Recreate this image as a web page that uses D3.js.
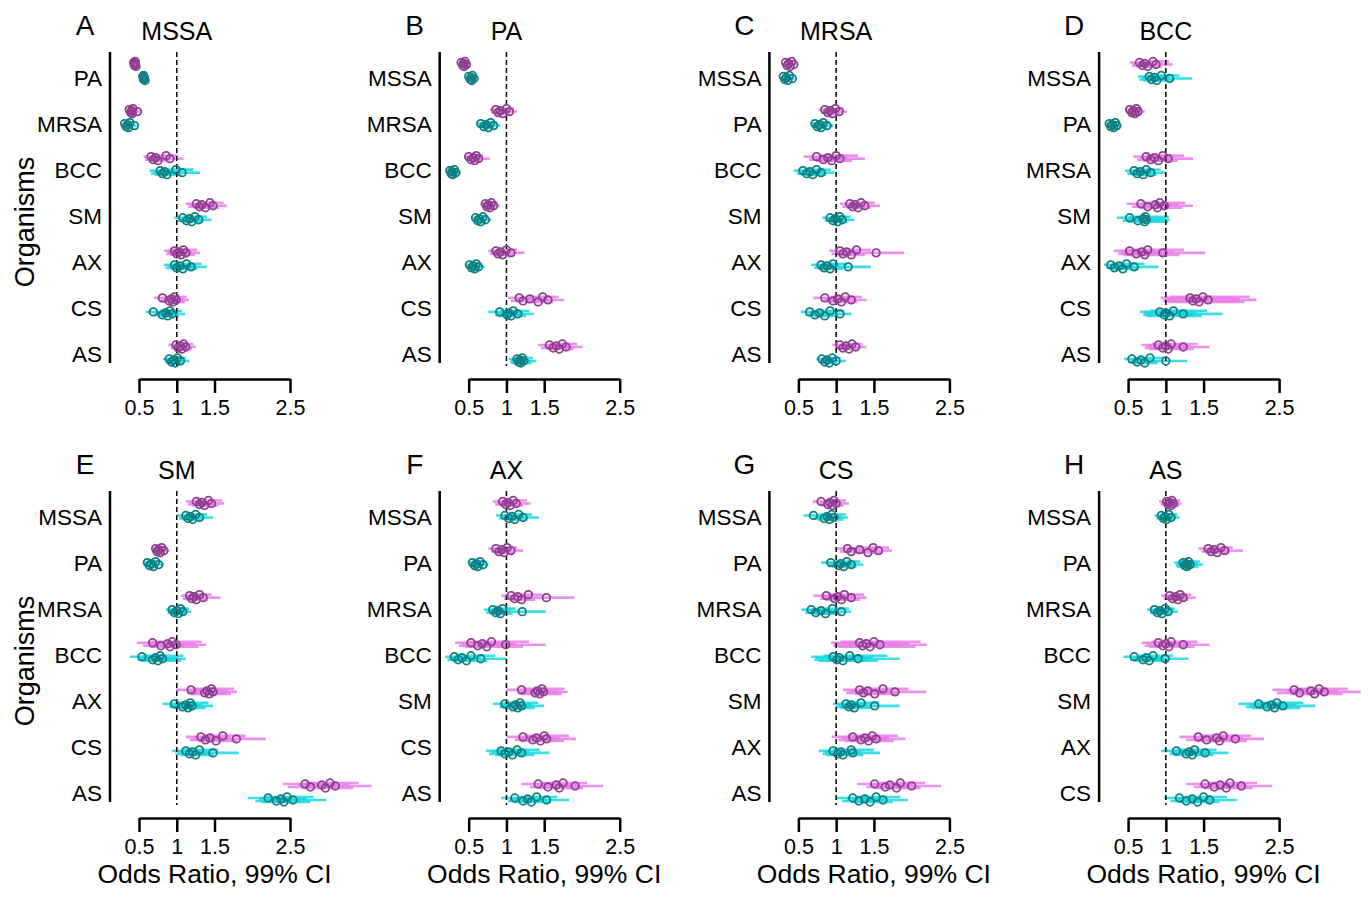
<!DOCTYPE html>
<html>
<head>
<meta charset="utf-8">
<script src="https://cdn.jsdelivr.net/npm/d3@7"></script>
<style>
body { margin: 0; background: #fff; }
text { font-family: "Liberation Sans", Arial, Helvetica, sans-serif; fill: #000; }
</style>
</head>
<body>
<div id="vis"></div>
<script>
// reference organisms, one panel each
const refs = ["MSSA", "PA", "MRSA", "BCC", "SM", "AX", "CS", "AS"];
const letters = ["A", "B", "C", "D", "E", "F", "G", "H"];
const xTicks = [0.5, 1, 1.5, 2.5];

// for every comparator (in refs order, reference left out):
// [magenta runs, teal runs], each run = [odds ratio, lower 99%, upper 99%]
const orMSSA = [
    [[[0.43,0.41,0.46],[0.44,0.42,0.47],[0.45,0.43,0.48],[0.46,0.43,0.49],[0.45,0.42,0.48],[0.44,0.41,0.47]],
     [[0.55,0.52,0.58],[0.56,0.53,0.59],[0.57,0.54,0.60],[0.58,0.55,0.61],[0.56,0.53,0.60],[0.57,0.54,0.61]]],
    [[[0.37,0.35,0.40],[0.39,0.36,0.42],[0.40,0.37,0.43],[0.41,0.38,0.44],[0.42,0.39,0.45],[0.48,0.44,0.52]],
     [[0.31,0.29,0.34],[0.33,0.31,0.36],[0.35,0.32,0.38],[0.36,0.33,0.39],[0.38,0.35,0.41],[0.44,0.40,0.47]]],
    [[[0.66,0.56,0.80],[0.69,0.58,0.83],[0.72,0.61,0.86],[0.75,0.63,0.90],[0.86,0.72,1.02],[0.91,0.76,1.09]],
     [[0.78,0.64,0.95],[0.81,0.66,0.99],[0.84,0.69,1.03],[0.87,0.71,1.07],[0.99,0.80,1.22],[1.07,0.86,1.31]]],
    [[[1.26,1.12,1.42],[1.30,1.15,1.46],[1.33,1.18,1.50],[1.38,1.22,1.56],[1.44,1.27,1.62],[1.48,1.31,1.66]],
     [[1.08,0.97,1.21],[1.13,1.01,1.26],[1.17,1.04,1.31],[1.20,1.07,1.35],[1.24,1.10,1.40],[1.29,1.15,1.46]]],
    [[[0.97,0.83,1.13],[1.00,0.86,1.16],[1.03,0.88,1.20],[1.06,0.91,1.24],[1.09,0.93,1.27],[1.12,0.96,1.31]],
     [[0.97,0.83,1.14],[1.00,0.85,1.18],[1.04,0.89,1.22],[1.08,0.92,1.27],[1.13,0.96,1.33],[1.19,1.01,1.40]]],
    [[[0.81,0.70,0.95],[0.90,0.77,1.05],[0.93,0.80,1.09],[0.95,0.82,1.11],[0.97,0.84,1.13],[0.99,0.85,1.16]],
     [[0.69,0.59,0.81],[0.81,0.69,0.95],[0.85,0.73,1.00],[0.88,0.75,1.03],[0.91,0.78,1.07],[0.94,0.80,1.11]]],
    [[[0.99,0.89,1.10],[1.02,0.92,1.14],[1.05,0.94,1.17],[1.07,0.96,1.20],[1.09,0.98,1.22],[1.12,1.00,1.25]],
     [[0.90,0.82,0.99],[0.93,0.85,1.03],[0.96,0.87,1.06],[0.98,0.89,1.09],[1.01,0.91,1.12],[1.05,0.95,1.17]]]
];

const orPA = [
    [[[0.40,0.38,0.43],[0.42,0.40,0.45],[0.43,0.41,0.46],[0.44,0.42,0.47],[0.45,0.42,0.48],[0.47,0.44,0.50]],
     [[0.50,0.47,0.54],[0.52,0.49,0.56],[0.53,0.50,0.57],[0.54,0.51,0.58],[0.55,0.52,0.59],[0.57,0.54,0.61]]],
    [[[0.86,0.78,0.95],[0.89,0.80,0.98],[0.92,0.83,1.02],[0.95,0.86,1.05],[1.00,0.90,1.10],[1.04,0.94,1.14]],
     [[0.66,0.60,0.73],[0.70,0.63,0.77],[0.73,0.66,0.81],[0.76,0.69,0.84],[0.79,0.72,0.88],[0.83,0.75,0.92]]],
    [[[0.50,0.44,0.57],[0.53,0.47,0.61],[0.56,0.49,0.64],[0.58,0.51,0.66],[0.60,0.53,0.69],[0.63,0.55,0.78]],
     [[0.25,0.22,0.29],[0.27,0.24,0.31],[0.28,0.25,0.32],[0.29,0.26,0.34],[0.31,0.27,0.36],[0.33,0.29,0.39]]],
    [[[0.72,0.66,0.79],[0.74,0.68,0.81],[0.76,0.70,0.83],[0.78,0.71,0.86],[0.80,0.73,0.88],[0.83,0.76,0.91]],
     [[0.59,0.54,0.65],[0.62,0.57,0.68],[0.64,0.59,0.70],[0.66,0.60,0.73],[0.69,0.63,0.76],[0.72,0.66,0.80]]],
    [[[0.86,0.76,0.98],[0.89,0.78,1.01],[0.92,0.81,1.05],[0.95,0.83,1.09],[1.00,0.88,1.14],[1.06,0.93,1.24]],
     [[0.51,0.46,0.57],[0.54,0.49,0.60],[0.56,0.51,0.62],[0.58,0.52,0.65],[0.60,0.54,0.67],[0.63,0.57,0.71]]],
    [[[1.17,1.02,1.34],[1.22,1.06,1.40],[1.31,1.14,1.50],[1.42,1.24,1.62],[1.48,1.29,1.69],[1.55,1.35,1.76]],
     [[0.91,0.76,1.08],[1.01,0.85,1.20],[1.03,0.87,1.22],[1.06,0.89,1.26],[1.09,0.92,1.30],[1.15,0.97,1.36]]],
    [[[1.57,1.42,1.74],[1.62,1.46,1.80],[1.66,1.50,1.84],[1.70,1.54,1.89],[1.74,1.57,1.94],[1.79,1.62,2.01]],
     [[1.14,1.03,1.27],[1.16,1.05,1.29],[1.18,1.06,1.31],[1.19,1.07,1.33],[1.21,1.09,1.35],[1.23,1.11,1.39]]]
];

const orMRSA = [
    [[[0.33,0.31,0.36],[0.35,0.33,0.38],[0.37,0.35,0.40],[0.39,0.36,0.42],[0.41,0.38,0.44],[0.44,0.41,0.47]],
     [[0.30,0.28,0.33],[0.32,0.30,0.35],[0.34,0.32,0.37],[0.36,0.33,0.39],[0.38,0.35,0.41],[0.42,0.39,0.45]]],
    [[[0.85,0.77,0.94],[0.89,0.80,0.98],[0.92,0.83,1.02],[0.95,0.86,1.05],[0.99,0.90,1.10],[1.04,0.94,1.14]],
     [[0.72,0.66,0.79],[0.75,0.68,0.82],[0.78,0.71,0.86],[0.80,0.73,0.88],[0.83,0.75,0.91],[0.88,0.80,0.96]]],
    [[[0.74,0.57,0.96],[0.83,0.64,1.07],[0.89,0.69,1.15],[0.94,0.73,1.21],[1.00,0.77,1.29],[1.05,0.81,1.38]],
     [[0.56,0.44,0.71],[0.61,0.48,0.77],[0.65,0.51,0.83],[0.69,0.54,0.87],[0.74,0.58,0.93],[0.80,0.63,0.98]]],
    [[[1.18,1.05,1.33],[1.22,1.08,1.38],[1.25,1.11,1.42],[1.29,1.14,1.46],[1.33,1.18,1.51],[1.38,1.22,1.58]],
     [[0.92,0.82,1.03],[0.96,0.85,1.08],[0.99,0.88,1.12],[1.02,0.91,1.15],[1.05,0.93,1.19],[1.08,0.96,1.24]]],
    [[[1.05,0.91,1.21],[1.09,0.94,1.26],[1.14,0.99,1.31],[1.20,1.04,1.38],[1.27,1.10,1.46],[1.53,1.25,1.90]],
     [[0.80,0.67,0.95],[0.84,0.71,1.00],[0.88,0.74,1.04],[0.92,0.77,1.09],[0.96,0.81,1.14],[1.16,0.95,1.46]]],
    [[[0.85,0.70,1.02],[0.96,0.80,1.15],[1.02,0.85,1.22],[1.07,0.89,1.28],[1.12,0.93,1.34],[1.20,1.00,1.40]],
     [[0.65,0.53,0.79],[0.72,0.59,0.87],[0.78,0.64,0.94],[0.85,0.70,1.03],[0.92,0.76,1.11],[1.05,0.87,1.20]]],
    [[[1.05,0.95,1.17],[1.09,0.98,1.21],[1.13,1.02,1.26],[1.17,1.05,1.30],[1.21,1.09,1.35],[1.26,1.13,1.40]],
     [[0.81,0.74,0.90],[0.85,0.77,0.94],[0.88,0.80,0.98],[0.91,0.82,1.01],[0.95,0.86,1.06],[1.00,0.90,1.13]]]
];

const orBCC = [
    [[[0.65,0.52,0.81],[0.69,0.55,0.86],[0.72,0.58,0.90],[0.76,0.61,0.95],[0.83,0.66,1.04],[0.87,0.70,1.09]],
     [[0.78,0.63,0.97],[0.81,0.65,1.01],[0.85,0.68,1.06],[0.88,0.70,1.10],[0.94,0.75,1.18],[1.05,0.84,1.35]]],
    [[[0.52,0.46,0.59],[0.55,0.49,0.62],[0.57,0.51,0.65],[0.59,0.52,0.67],[0.61,0.54,0.69],[0.63,0.56,0.72]],
     [[0.25,0.22,0.29],[0.27,0.24,0.31],[0.29,0.26,0.33],[0.31,0.27,0.35],[0.33,0.29,0.37],[0.35,0.31,0.40]]],
    [[[0.74,0.57,0.96],[0.80,0.62,1.04],[0.85,0.66,1.10],[0.90,0.70,1.16],[0.96,0.74,1.24],[1.03,0.80,1.36]],
     [[0.58,0.46,0.73],[0.62,0.49,0.78],[0.66,0.52,0.83],[0.70,0.55,0.88],[0.74,0.59,0.93],[0.80,0.64,0.99]]],
    [[[0.67,0.48,0.92],[0.76,0.55,1.04],[0.86,0.62,1.17],[0.89,0.65,1.22],[0.92,0.67,1.26],[0.98,0.71,1.36]],
     [[0.52,0.35,0.76],[0.63,0.43,0.91],[0.70,0.48,1.00],[0.72,0.50,1.03],[0.73,0.51,1.04],[0.74,0.52,1.05]]],
    [[[0.52,0.31,0.86],[0.61,0.37,1.00],[0.68,0.41,1.10],[0.72,0.44,1.18],[0.76,0.46,1.24],[0.96,0.58,1.52]],
     [[0.27,0.18,0.41],[0.32,0.21,0.48],[0.38,0.25,0.57],[0.43,0.28,0.64],[0.48,0.32,0.72],[0.58,0.38,0.90]]],
    [[[1.32,0.93,1.87],[1.36,0.96,1.93],[1.40,0.99,1.98],[1.44,1.02,2.04],[1.49,1.05,2.11],[1.56,1.10,2.20]],
     [[0.92,0.66,1.29],[0.98,0.70,1.38],[1.00,0.72,1.41],[1.05,0.75,1.48],[1.10,0.79,1.55],[1.23,0.88,1.75]]],
    [[[0.90,0.68,1.19],[0.96,0.72,1.27],[1.00,0.75,1.33],[1.03,0.78,1.37],[1.07,0.81,1.42],[1.23,0.93,1.58]],
     [[0.55,0.45,0.68],[0.62,0.50,0.77],[0.67,0.54,0.83],[0.72,0.58,0.89],[0.79,0.64,0.98],[1.00,0.81,1.28]]]
];

const orSM = [
    [[[1.26,1.12,1.42],[1.30,1.15,1.47],[1.33,1.18,1.50],[1.37,1.21,1.55],[1.42,1.25,1.60],[1.46,1.29,1.63]],
     [[1.12,1.01,1.25],[1.15,1.03,1.28],[1.18,1.06,1.32],[1.21,1.08,1.35],[1.25,1.12,1.40],[1.30,1.16,1.48]]],
    [[[0.72,0.67,0.78],[0.74,0.69,0.80],[0.76,0.70,0.82],[0.78,0.72,0.84],[0.80,0.74,0.87],[0.83,0.77,0.90]],
     [[0.61,0.56,0.66],[0.64,0.59,0.69],[0.66,0.61,0.72],[0.69,0.63,0.75],[0.72,0.66,0.78],[0.76,0.70,0.83]]],
    [[[1.17,1.06,1.30],[1.20,1.08,1.34],[1.23,1.11,1.37],[1.26,1.13,1.41],[1.30,1.17,1.46],[1.35,1.21,1.58]],
     [[0.94,0.86,1.04],[0.97,0.88,1.07],[1.00,0.91,1.10],[1.02,0.93,1.12],[1.05,0.95,1.16],[1.08,0.98,1.19]]],
    [[[0.68,0.47,0.97],[0.79,0.55,1.12],[0.88,0.62,1.25],[0.91,0.64,1.29],[0.94,0.66,1.33],[0.99,0.70,1.39]],
     [[0.54,0.38,0.76],[0.68,0.48,0.96],[0.72,0.51,1.02],[0.75,0.53,1.06],[0.78,0.55,1.09],[0.81,0.57,1.12]]],
    [[[1.19,0.99,1.43],[1.37,1.14,1.64],[1.40,1.17,1.68],[1.43,1.19,1.72],[1.46,1.21,1.76],[1.48,1.23,1.80]],
     [[0.97,0.81,1.16],[1.08,0.90,1.29],[1.12,0.93,1.34],[1.15,0.96,1.38],[1.18,0.98,1.42],[1.20,1.00,1.48]]],
    [[[1.32,1.12,1.56],[1.38,1.17,1.63],[1.44,1.22,1.70],[1.52,1.29,1.80],[1.61,1.36,1.91],[1.79,1.51,2.18]],
     [[1.12,0.94,1.33],[1.17,0.98,1.39],[1.21,1.02,1.44],[1.25,1.05,1.49],[1.30,1.09,1.55],[1.48,1.24,1.82]]],
    [[[2.70,2.41,3.03],[2.77,2.47,3.11],[2.92,2.60,3.28],[2.97,2.65,3.34],[3.03,2.70,3.41],[3.10,2.76,3.58]],
     [[2.21,1.94,2.52],[2.32,2.04,2.65],[2.38,2.09,2.72],[2.42,2.12,2.77],[2.46,2.16,2.81],[2.54,2.23,2.98]]]
];

const orAX = [
    [[[0.95,0.82,1.10],[0.99,0.85,1.15],[1.02,0.88,1.18],[1.05,0.91,1.22],[1.09,0.94,1.27],[1.13,0.98,1.32]],
     [[0.98,0.86,1.12],[1.03,0.90,1.18],[1.07,0.93,1.23],[1.11,0.97,1.28],[1.16,1.01,1.34],[1.22,1.06,1.43]]],
    [[[0.86,0.76,0.97],[0.90,0.80,1.02],[0.94,0.83,1.06],[0.97,0.86,1.10],[1.01,0.89,1.14],[1.06,0.94,1.22]],
     [[0.55,0.50,0.61],[0.58,0.52,0.64],[0.60,0.54,0.66],[0.62,0.56,0.69],[0.65,0.58,0.72],[0.69,0.62,0.76]]],
    [[[1.06,0.93,1.22],[1.11,0.97,1.28],[1.15,1.00,1.32],[1.20,1.04,1.38],[1.29,1.12,1.48],[1.53,1.24,1.90]],
     [[0.82,0.70,0.96],[0.86,0.73,1.01],[0.89,0.76,1.05],[0.92,0.78,1.08],[0.95,0.81,1.12],[1.21,0.97,1.52]]],
    [[[0.53,0.32,0.88],[0.62,0.37,1.02],[0.68,0.41,1.12],[0.74,0.45,1.22],[0.80,0.48,1.30],[0.99,0.60,1.52]],
     [[0.31,0.19,0.50],[0.36,0.22,0.58],[0.41,0.25,0.66],[0.47,0.29,0.75],[0.53,0.33,0.85],[0.66,0.41,1.00]]],
    [[[1.20,1.00,1.44],[1.38,1.15,1.65],[1.41,1.18,1.69],[1.44,1.20,1.73],[1.47,1.22,1.77],[1.49,1.24,1.81]],
     [[0.98,0.82,1.17],[1.09,0.91,1.30],[1.12,0.94,1.34],[1.15,0.96,1.38],[1.18,0.98,1.42],[1.20,1.00,1.50]]],
    [[[1.22,1.00,1.48],[1.35,1.11,1.64],[1.40,1.15,1.70],[1.45,1.19,1.76],[1.50,1.23,1.83],[1.53,1.26,1.92]],
     [[0.93,0.73,1.17],[0.98,0.77,1.24],[1.03,0.81,1.30],[1.08,0.85,1.37],[1.14,0.90,1.44],[1.20,0.95,1.57]]],
    [[[1.42,1.20,1.68],[1.55,1.31,1.83],[1.66,1.40,1.96],[1.70,1.44,2.01],[1.75,1.48,2.07],[1.91,1.61,2.28]],
     [[1.11,0.93,1.33],[1.22,1.02,1.46],[1.28,1.07,1.53],[1.33,1.11,1.59],[1.40,1.17,1.67],[1.53,1.28,1.83]]]
];

const orCS = [
    [[[0.80,0.69,0.93],[0.89,0.77,1.03],[0.92,0.79,1.07],[0.95,0.82,1.10],[0.97,0.84,1.13],[1.00,0.86,1.17]],
     [[0.70,0.57,0.86],[0.84,0.69,1.02],[0.88,0.72,1.07],[0.91,0.75,1.10],[0.94,0.77,1.13],[0.97,0.80,1.16]]],
    [[[1.15,1.00,1.32],[1.20,1.05,1.38],[1.31,1.14,1.50],[1.42,1.24,1.62],[1.49,1.30,1.70],[1.56,1.36,1.74]],
     [[0.93,0.80,1.08],[1.03,0.89,1.19],[1.06,0.91,1.23],[1.10,0.95,1.27],[1.14,0.98,1.32],[1.20,1.03,1.36]]],
    [[[0.87,0.70,1.08],[0.98,0.79,1.21],[1.02,0.82,1.26],[1.07,0.86,1.32],[1.11,0.89,1.37],[1.20,0.97,1.40]],
     [[0.67,0.54,0.83],[0.73,0.59,0.90],[0.80,0.65,0.99],[0.86,0.70,1.06],[0.95,0.77,1.17],[1.07,0.87,1.20]]],
    [[[1.31,0.93,1.85],[1.35,0.96,1.91],[1.40,0.99,1.97],[1.45,1.03,2.05],[1.50,1.06,2.12],[1.58,1.12,2.20]],
     [[0.96,0.67,1.37],[1.01,0.71,1.44],[1.04,0.73,1.49],[1.09,0.77,1.55],[1.18,0.83,1.68],[1.29,0.91,1.84]]],
    [[[1.31,1.09,1.58],[1.36,1.13,1.64],[1.42,1.18,1.71],[1.51,1.25,1.82],[1.62,1.34,1.96],[1.78,1.47,2.19]],
     [[1.13,0.96,1.33],[1.17,0.99,1.38],[1.20,1.02,1.42],[1.24,1.05,1.46],[1.33,1.13,1.57],[1.51,1.28,1.84]]],
    [[[1.22,0.94,1.50],[1.33,1.03,1.64],[1.38,1.07,1.70],[1.43,1.11,1.76],[1.48,1.15,1.82],[1.53,1.19,1.92]],
     [[0.96,0.77,1.20],[1.02,0.82,1.28],[1.06,0.85,1.33],[1.09,0.87,1.36],[1.20,0.96,1.50],[1.22,0.98,1.58]]],
    [[[1.51,1.28,1.78],[1.65,1.40,1.95],[1.71,1.45,2.02],[1.80,1.53,2.12],[1.85,1.57,2.18],[2.00,1.70,2.39]],
     [[1.22,1.01,1.47],[1.30,1.08,1.57],[1.38,1.14,1.66],[1.45,1.20,1.75],[1.53,1.27,1.85],[1.62,1.34,1.95]]]
];

const orAS = [
    [[[1.01,0.91,1.12],[1.03,0.93,1.14],[1.05,0.95,1.16],[1.07,0.97,1.18],[1.08,0.98,1.19],[1.10,1.00,1.21]],
     [[0.94,0.85,1.04],[0.97,0.88,1.07],[0.99,0.90,1.10],[1.01,0.91,1.12],[1.04,0.94,1.15],[1.07,0.97,1.18]]],
    [[[1.56,1.43,1.70],[1.60,1.47,1.75],[1.64,1.50,1.79],[1.68,1.54,1.84],[1.73,1.58,1.89],[1.78,1.63,2.02]],
     [[1.23,1.11,1.37],[1.25,1.13,1.39],[1.27,1.14,1.42],[1.28,1.15,1.43],[1.30,1.17,1.45],[1.32,1.19,1.49]]],
    [[[1.05,0.94,1.18],[1.09,0.97,1.22],[1.13,1.01,1.27],[1.16,1.03,1.30],[1.19,1.06,1.34],[1.23,1.10,1.40]],
     [[0.85,0.75,0.96],[0.89,0.79,1.01],[0.92,0.81,1.04],[0.95,0.84,1.08],[0.99,0.88,1.12],[1.03,0.91,1.16]]],
    [[[0.90,0.68,1.19],[0.96,0.72,1.27],[1.00,0.75,1.33],[1.04,0.78,1.38],[1.07,0.81,1.42],[1.23,0.93,1.58]],
     [[0.58,0.44,0.76],[0.70,0.53,0.92],[0.74,0.56,0.97],[0.78,0.59,1.03],[0.83,0.63,1.09],[0.99,0.75,1.30]]],
    [[[2.70,2.41,3.03],[2.77,2.47,3.11],[2.92,2.60,3.28],[2.97,2.65,3.34],[3.03,2.70,3.41],[3.10,2.76,3.58]],
     [[2.23,1.96,2.54],[2.34,2.06,2.66],[2.40,2.11,2.73],[2.44,2.14,2.78],[2.47,2.17,2.82],[2.55,2.24,2.98]]],
    [[[1.43,1.18,1.73],[1.54,1.27,1.86],[1.67,1.38,2.02],[1.71,1.41,2.07],[1.76,1.45,2.13],[1.92,1.59,2.30]],
     [[1.14,0.94,1.38],[1.27,1.05,1.54],[1.31,1.08,1.59],[1.35,1.11,1.63],[1.38,1.14,1.67],[1.52,1.25,1.83]]],
    [[[1.52,1.27,1.82],[1.64,1.37,1.96],[1.72,1.44,2.06],[1.80,1.51,2.15],[1.85,1.55,2.21],[2.00,1.67,2.41]],
     [[1.18,0.98,1.42],[1.27,1.06,1.53],[1.35,1.12,1.62],[1.42,1.18,1.71],[1.50,1.25,1.81],[1.58,1.31,1.94]]]
];

const panelData = [orMSSA, orPA, orMRSA, orBCC, orSM, orAX, orCS, orAS];

// vertical spread of the runs inside one group (px)
const jitter = [-1.5, 1.5, -0.5, 2.5, -2.5, 0.5];
const seriesStyle = [
    {line: "#e97ee8", point: "#8f3f8f", dy: -7},
    {line: "#16d9df", point: "#107f82", dy: 7}
];

const svg = d3.select("#vis")
    .append("svg")
    .attr("width", 1370)
    .attr("height", 899);

const x = d3.scaleLinear()
    .domain([0.5, 2.5])
    .range([139, 290]);

refs.forEach(function (ref, i) {
    const col = i % 4;
    const row = Math.floor(i / 4);
    const orgs = refs.filter(r => r !== ref);
    const data = panelData[i];

    const yData = d3.scalePoint().domain(orgs).range([71, 353.5]);
    const yLabel = d3.scalePoint().domain(orgs).range([78, 354]);

    const g = svg.append("g")
        .attr("transform", "translate(" + (col * 329.7) + "," + (row * 439) + ")");

    // panel letter and title
    g.append("text")
        .attr("x", 85)
        .attr("y", 35)
        .attr("text-anchor", "middle")
        .style("font-size", "28px")
        .text(letters[i]);

    g.append("text")
        .attr("x", x(1))
        .attr("y", 40)
        .attr("text-anchor", "middle")
        .style("font-size", "25px")
        .text(ref);

    // y axis line and labels
    g.append("line")
        .attr("x1", 110).attr("x2", 110)
        .attr("y1", 52).attr("y2", 363)
        .attr("stroke", "#000")
        .attr("stroke-width", 2.5);

    g.selectAll(".org")
        .data(orgs)
        .enter()
        .append("text")
        .attr("class", "org")
        .attr("x", 102)
        .attr("y", d => yLabel(d))
        .attr("dy", "0.35em")
        .attr("text-anchor", "end")
        .style("font-size", "22.5px")
        .text(d => d);

    if (col === 0) {
        g.append("text")
            .attr("transform", "translate(25,222) rotate(-90)")
            .attr("dy", "0.35em")
            .attr("text-anchor", "middle")
            .style("font-size", "27px")
            .text("Organisms");
    }

    // CI lines
    const runs = [];
    data.forEach(function (pair, j) {
        pair.forEach(function (list, s) {
            list.forEach(function (r, k) {
                runs.push({org: orgs[j], s: s, k: k, est: r[0], lo: r[1], hi: r[2]});
            });
        });
    });

    g.append("g")
        .selectAll("line")
        .data(runs)
        .enter()
        .append("line")
        .attr("x1", d => x(d.lo))
        .attr("x2", d => x(d.hi))
        .attr("y1", d => yData(d.org) + seriesStyle[d.s].dy + jitter[d.k])
        .attr("y2", d => yData(d.org) + seriesStyle[d.s].dy + jitter[d.k])
        .attr("stroke", d => seriesStyle[d.s].line)
        .attr("stroke-width", 2.6)
        .attr("stroke-opacity", 0.85);

    // reference line at OR = 1
    g.append("line")
        .attr("x1", x(1)).attr("x2", x(1))
        .attr("y1", 52).attr("y2", 366)
        .attr("stroke", "#000")
        .attr("stroke-width", 1.5)
        .attr("stroke-dasharray", "5,3");

    g.append("g")
        .selectAll("circle")
        .data(runs)
        .enter()
        .append("circle")
        .attr("cx", d => x(d.est))
        .attr("cy", d => yData(d.org) + seriesStyle[d.s].dy + jitter[d.k])
        .attr("r", 3.8)
        .attr("fill", "none")
        .attr("stroke", d => seriesStyle[d.s].point)
        .attr("stroke-width", 1.8);

    // x axis
    const xAxis = g.append("g")
        .attr("transform", "translate(0,379)")
        .call(d3.axisBottom(x)
            .tickValues(xTicks)
            .tickFormat(d => String(d))
            .tickSize(14)
            .tickSizeOuter(0)
            .tickPadding(7));

    xAxis.selectAll("path, line")
        .attr("stroke", "#000")
        .attr("stroke-width", 2.5);
    xAxis.selectAll("text")
        .style("font-size", "21.5px")
        .style("font-family", "'Liberation Sans', Arial, sans-serif")
        .attr("fill", "#000");

    if (row === 1) {
        g.append("text")
            .attr("x", (x(0.5) + x(2.5)) / 2)
            .attr("y", 883)
            .attr("transform", "translate(0,-439)")
            .attr("text-anchor", "middle")
            .style("font-size", "26.5px")
            .text("Odds Ratio, 99% CI");
    }
});
</script>
</body>
</html>
